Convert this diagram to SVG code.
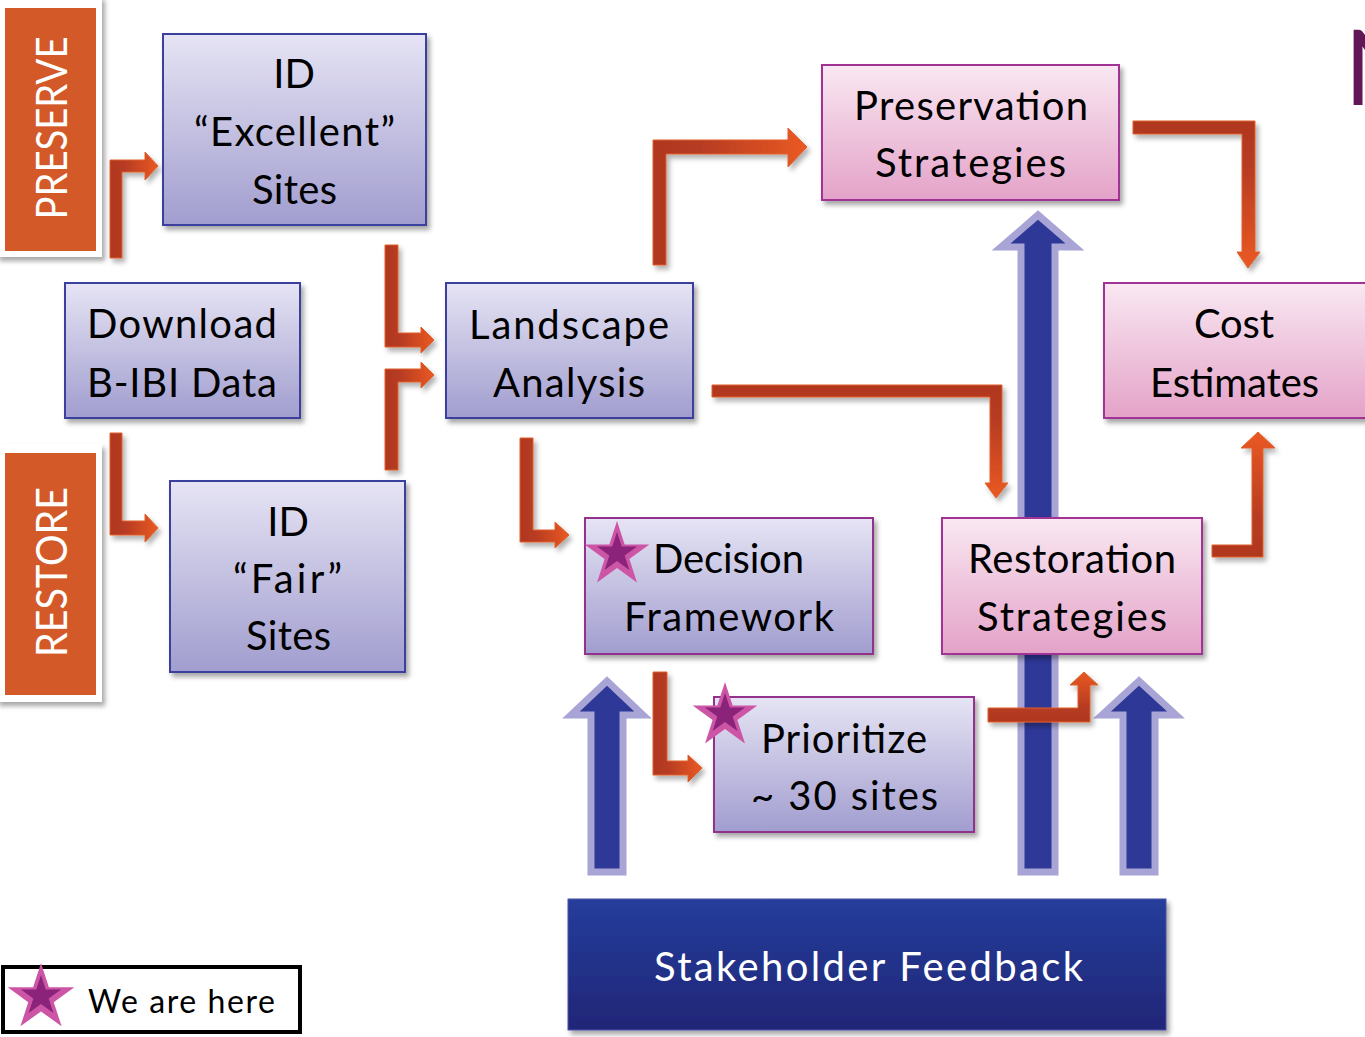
<svg xmlns="http://www.w3.org/2000/svg" width="1365" height="1037" viewBox="0 0 1365 1037">
  <defs>
    <linearGradient id="gBlue" x1="0" y1="0" x2="0" y2="1">
      <stop offset="0" stop-color="#e6e4f4"/>
      <stop offset="1" stop-color="#a19dcf"/>
    </linearGradient>
    <linearGradient id="gPink" x1="0" y1="0" x2="0" y2="1">
      <stop offset="0" stop-color="#f9e8f2"/>
      <stop offset="1" stop-color="#e4a2c8"/>
    </linearGradient>
    <linearGradient id="gNavy" x1="0" y1="0" x2="0" y2="1">
      <stop offset="0" stop-color="#253d9b"/>
      <stop offset="1" stop-color="#212677"/>
    </linearGradient>
    <!-- elbow arrow fills: dark red at the tail, orange at the head -->
    <linearGradient id="gOrH" x1="0" y1="0" x2="1" y2="0">
      <stop offset="0" stop-color="#b0381f"/>
      <stop offset="0.3" stop-color="#b63b21"/>
      <stop offset="1" stop-color="#ea5923"/>
    </linearGradient>
    <linearGradient id="gOrDown" x1="0" y1="0" x2="0" y2="1">
      <stop offset="0" stop-color="#b0381f"/>
      <stop offset="0.3" stop-color="#b63b21"/>
      <stop offset="1" stop-color="#ea5923"/>
    </linearGradient>
    <linearGradient id="gOrUp" x1="0" y1="1" x2="0" y2="0">
      <stop offset="0" stop-color="#b0381f"/>
      <stop offset="0.3" stop-color="#b63b21"/>
      <stop offset="1" stop-color="#ea5923"/>
    </linearGradient>
    <filter id="shadow" x="-10%" y="-10%" width="125%" height="130%">
      <feDropShadow dx="3" dy="4" stdDeviation="2.5" flood-color="#000" flood-opacity="0.35"/>
    </filter>
    <filter id="ashadow" x="-20%" y="-20%" width="150%" height="150%">
      <feDropShadow dx="3" dy="4" stdDeviation="2.5" flood-color="#000" flood-opacity="0.3"/>
    </filter>
    <!-- five-point star, outer radius 34 -->
    <path id="star" d="M0,-34 L7.64,-10.52 L32.34,-10.51 L12.36,4.02 L19.98,27.51 L0,13 L-19.98,27.51 L-12.36,4.02 L-32.34,-10.51 L-7.64,-10.52 Z"/>
  </defs>
  <style>
    .txt { font-family: Lato, "Liberation Sans", sans-serif; font-size: 40px; fill: #000; text-anchor: middle; }
    .tag { font-family: Lato, "Liberation Sans", sans-serif; font-size: 42px; fill: #fff; text-anchor: middle; }
    .white { fill: #fff; }
    .boxB { fill: url(#gBlue); stroke: #3b3f9e; stroke-width: 2; filter: url(#shadow); }
    .boxP { fill: url(#gBlue); stroke: #93338c; stroke-width: 2; filter: url(#shadow); }
    .boxK { fill: url(#gPink); stroke: #a33095; stroke-width: 2; filter: url(#shadow); }
    .boxN { fill: url(#gNavy); stroke: #4a50a8; stroke-width: 1; filter: url(#shadow); }
    .frame { fill: #fff; filter: url(#shadow); }
    .tagbox { fill: #d35a28; }
    .elbow { stroke: #e0612c; stroke-width: 1; filter: url(#ashadow); }
    .h { fill: url(#gOrH); }
    .dn { fill: url(#gOrDown); }
    .up { fill: url(#gOrUp); }
    .big { fill: #2e3897; stroke: #a8a4d6; stroke-width: 7; stroke-linejoin: miter; }
    .starO { fill: #cc55a5; }
    .starI { fill: #8a2379; }
  </style>

  <rect width="1365" height="1037" fill="#fff"/>

  <!-- first letter of the slide title, running off the right edge -->
  <text x="1344" y="105" font-family="Lato, 'Liberation Sans', sans-serif" font-size="105" fill="#611658">N</text>

  <!-- side tags -->
  <g id="tag-preserve">
    <rect class="frame" x="-4" y="-4" width="106" height="261"/>
    <rect class="tagbox" x="5" y="8" width="91" height="243"/>
    <text class="tag" transform="translate(67,128) rotate(-90)" textLength="183" lengthAdjust="spacingAndGlyphs">PRESERVE</text>
  </g>
  <g id="tag-restore">
    <rect class="frame" x="-4" y="444" width="106" height="258"/>
    <rect class="tagbox" x="5" y="453" width="91" height="242"/>
    <text class="tag" transform="translate(67,572) rotate(-90)" textLength="170" lengthAdjust="spacingAndGlyphs">RESTORE</text>
  </g>

  <g id="connectors">
    <!-- stakeholder feedback arrows -->
    <polygon class="big" points="591,872 591,715 571,715 607,681 643,715 623,715 623,872"/>
    <polygon class="big" points="1021,872 1021,247 1001,247 1038,215 1075,247 1055,247 1055,872"/>
    <polygon class="big" points="1123,872 1123,715 1102,715 1139,681 1176,715 1155,715 1155,872"/>

    <!-- elbow arrows -->
    <polygon class="elbow h" points="110,258 110,160 145,160 145,152 158,166 145,180 145,172 122,172 122,258"/>
    <polygon class="elbow h" points="110,433 122,433 122,521 145,521 145,514 158,528 145,542 145,535 110,535"/>
    <polygon class="elbow h" points="385,245 398,245 398,333 421,333 421,327 434,340 421,353 421,347 385,347"/>
    <polygon class="elbow h" points="385,470 385,369 421,369 421,362 434,375 421,388 421,382 398,382 398,470"/>
    <polygon class="elbow h" points="653,265 653,140 788,140 788,128 807,147 788,167 788,154 666,154 666,265"/>
    <polygon class="elbow dn" points="712,385 1002,385 1002,483 1008,483 996,498 985,483 990,483 990,397 712,397"/>
    <polygon class="elbow h" points="520,438 533,438 533,530 555,530 555,522 569,535 555,548 555,542 520,542"/>
    <polygon class="elbow dn" points="1133,121 1255,121 1255,252 1260,252 1248,268 1237,252 1242,252 1242,134 1133,134"/>
    <polygon class="elbow up" points="1212,545 1252,545 1252,448 1241,448 1258,432 1275,448 1263,448 1263,557 1212,557"/>
    <polygon class="elbow h" points="653,672 667,672 667,761 688,761 688,755 702,768 688,782 688,775 653,775"/>
    <polygon class="elbow up" points="988,708 1078,708 1078,685 1070,685 1084,672 1098,685 1090,685 1090,722 988,722"/>
  </g>

  <g id="id-excellent">
    <rect class="boxB" x="163" y="34" width="263" height="191"/>
    <text class="txt" x="294" y="88">ID</text>
    <text class="txt" x="294.5" y="146" textLength="201">“Excellent”</text>
    <text class="txt" x="294.5" y="204" textLength="85">Sites</text>
  </g>

  <g id="download">
    <rect class="boxB" x="65" y="283" width="235" height="135"/>
    <text class="txt" x="182" y="338" textLength="190">Download</text>
    <text class="txt" x="182" y="397" textLength="190">B-IBI Data</text>
  </g>

  <g id="id-fair">
    <rect class="boxB" x="170" y="481" width="235" height="191"/>
    <text class="txt" x="288" y="536">ID</text>
    <text class="txt" x="287.5" y="593" textLength="109">“Fair”</text>
    <text class="txt" x="288.5" y="650" textLength="85">Sites</text>
  </g>

  <g id="landscape">
    <rect class="boxB" x="446" y="283" width="247" height="135"/>
    <text class="txt" x="569" y="339" textLength="200">Landscape</text>
    <text class="txt" x="569" y="397" textLength="152">Analysis</text>
  </g>

  <g id="preservation">
    <rect class="boxK" x="822" y="65" width="297" height="135"/>
    <text class="txt" x="971" y="120" textLength="234">Preservation</text>
    <text class="txt" x="970.5" y="177" textLength="191">Strategies</text>
  </g>

  <g id="cost">
    <rect class="boxK" x="1104" y="283" width="265" height="135"/>
    <text class="txt" x="1234" y="338" textLength="80">Cost</text>
    <text class="txt" x="1234.5" y="397" textLength="169">Estimates</text>
  </g>

  <g id="decision">
    <rect class="boxP" x="585" y="518" width="288" height="136"/>
    <text class="txt" x="728.5" y="573" textLength="151">Decision</text>
    <text class="txt" x="729" y="631" textLength="210">Framework</text>
    <use href="#star" class="starO" transform="translate(617,555)"/>
    <use href="#star" class="starI" transform="translate(617,553) scale(0.62)"/>
  </g>

  <g id="restoration">
    <rect class="boxK" x="942" y="518" width="260" height="136"/>
    <text class="txt" x="1072" y="573" textLength="208">Restoration</text>
    <text class="txt" x="1072" y="631" textLength="190">Strategies</text>
  </g>

  <g id="prioritize">
    <rect class="boxP" x="714" y="697" width="260" height="135"/>
    <text class="txt" x="844" y="753" textLength="166">Prioritize</text>
    <text class="txt" x="844.5" y="810" textLength="187">~ 30 sites</text>
    <use href="#star" class="starO" transform="translate(725,716)"/>
    <use href="#star" class="starI" transform="translate(725,714) scale(0.62)"/>
  </g>

  <g id="stakeholder">
    <rect class="boxN" x="568" y="899" width="598" height="131"/>
    <text class="txt white" x="868.5" y="981" textLength="429">Stakeholder Feedback</text>
  </g>

  <g id="legend">
    <rect x="3" y="967" width="297" height="65" fill="#fff" stroke="#000" stroke-width="4"/>
    <use href="#star" class="starO" transform="translate(41,998) scale(1.03)"/>
    <use href="#star" class="starI" transform="translate(41,996) scale(0.62)"/>
    <text x="88" y="1013" font-family="Lato, 'Liberation Sans', sans-serif" font-size="32" fill="#000" textLength="187">We are here</text>
  </g>
</svg>
